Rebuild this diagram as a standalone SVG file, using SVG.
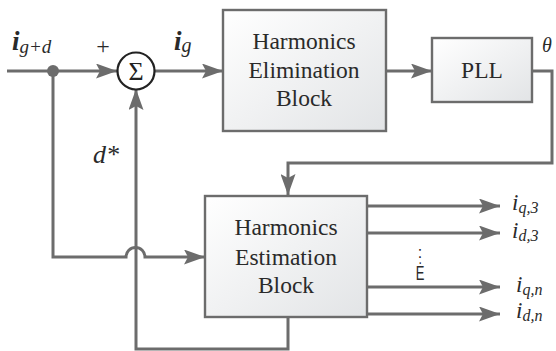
<svg xmlns="http://www.w3.org/2000/svg" width="556" height="351" viewBox="0 0 556 351">
<defs>
<linearGradient id="g" x1="0" y1="0" x2="1" y2="1">
<stop offset="0" stop-color="#ffffff"/>
<stop offset="1" stop-color="#e2e4e6"/>
</linearGradient>
<marker id="ar" markerWidth="21" markerHeight="15" refX="21" refY="7.5" orient="auto" markerUnits="userSpaceOnUse">
<path d="M0,0 L21,7.5 L0,15 L4,7.5 Z" fill="#6c6c6c"/>
</marker>
<style>
.box{fill:url(#g);stroke:#6c6c6c;stroke-width:2.4}
.ln{fill:none;stroke:#6c6c6c;stroke-width:3}
</style>
</defs>
<rect width="556" height="351" fill="#fff"/>
<g id="connectors">
<path class="ln" d="M7,71 H117" marker-end="url(#ar)"/>
<path class="ln" d="M155,71 H223" marker-end="url(#ar)"/>
<path class="ln" d="M386,71 H432" marker-end="url(#ar)"/>
<path class="ln" d="M532,71 H552 V163 H288 V195" marker-end="url(#ar)"/>
<path class="ln" d="M53,71 V257 H126 A9.5,9.5 0 0 1 145,257 H205" marker-end="url(#ar)"/>
<path class="ln" d="M288,317 V349 H136 V89" marker-end="url(#ar)"/>
<path class="ln" d="M367,206 H500" marker-end="url(#ar)"/>
<path class="ln" d="M367,233 H500" marker-end="url(#ar)"/>
<path class="ln" d="M367,287 H500" marker-end="url(#ar)"/>
<path class="ln" d="M367,314 H500" marker-end="url(#ar)"/>
<circle cx="53" cy="71" r="6" fill="#6c6c6c"/>
</g>
<g id="sum">
<circle cx="136" cy="71" r="18.5" fill="#fff" stroke="#222" stroke-width="2.2"/>
<text x="136" y="80" font-family="Liberation Serif" font-size="26" fill="#222" text-anchor="middle">Σ</text>
</g>
<g id="heb" font-family="Liberation Serif" font-size="23.5" fill="#2a2a2a" text-anchor="middle">
<rect class="box" x="223" y="10" width="163" height="121"/>
<text x="304" y="49" font-family="Liberation Serif">Harmonics</text>
<text x="304" y="78" font-family="Liberation Serif">Elimination</text>
<text x="304" y="106" font-family="Liberation Serif">Block</text>
</g>
<g id="pll" font-size="23.5" fill="#2a2a2a" text-anchor="middle">
<rect class="box" x="432" y="38" width="100" height="64"/>
<text x="482" y="78" font-family="Liberation Serif">PLL</text>
</g>
<g id="hest" font-size="23.5" fill="#2a2a2a" text-anchor="middle">
<rect class="box" x="205" y="196" width="162" height="121"/>
<text x="286" y="235" font-family="Liberation Serif">Harmonics</text>
<text x="286" y="265" font-family="Liberation Serif">Estimation</text>
<text x="286" y="293" font-family="Liberation Serif">Block</text>
</g>
<g id="labels" fill="#2a2a2a" font-style="italic">
<text x="12" y="50" font-family="Liberation Serif" font-size="27" font-weight="bold">i<tspan font-size="19" font-weight="normal" dy="3">g+d</tspan></text>
<text x="103" y="54" font-family="Liberation Serif" font-size="24" font-style="normal" text-anchor="middle">+</text>
<text x="174" y="50" font-family="Liberation Serif" font-size="27" font-weight="bold">i<tspan font-size="20" font-weight="normal" dy="2">g</tspan></text>
<text x="93" y="163" font-family="Liberation Serif" font-size="26">d*</text>
<text x="542" y="52" font-family="Liberation Serif" font-size="20">θ</text>
<text x="512" y="210" font-family="Liberation Serif" font-size="23">i<tspan font-size="16" dy="3">q,3</tspan></text>
<text x="512" y="238" font-family="Liberation Serif" font-size="23">i<tspan font-size="16" dy="3">d,3</tspan></text>
<text x="516" y="292" font-family="Liberation Serif" font-size="23">i<tspan font-size="16" dy="3">q,n</tspan></text>
<text x="516" y="318" font-family="Liberation Serif" font-size="23">i<tspan font-size="16" dy="3">d,n</tspan></text>
<text x="420" y="258" font-family="Liberation Sans" font-size="16" font-style="normal" text-anchor="middle">:</text>
<text x="420" y="280" font-family="Liberation Sans" font-size="20" font-style="normal" text-anchor="middle" transform="translate(420 0) scale(0.65 1) translate(-420 0)">Ė</text>
</g>
</svg>
